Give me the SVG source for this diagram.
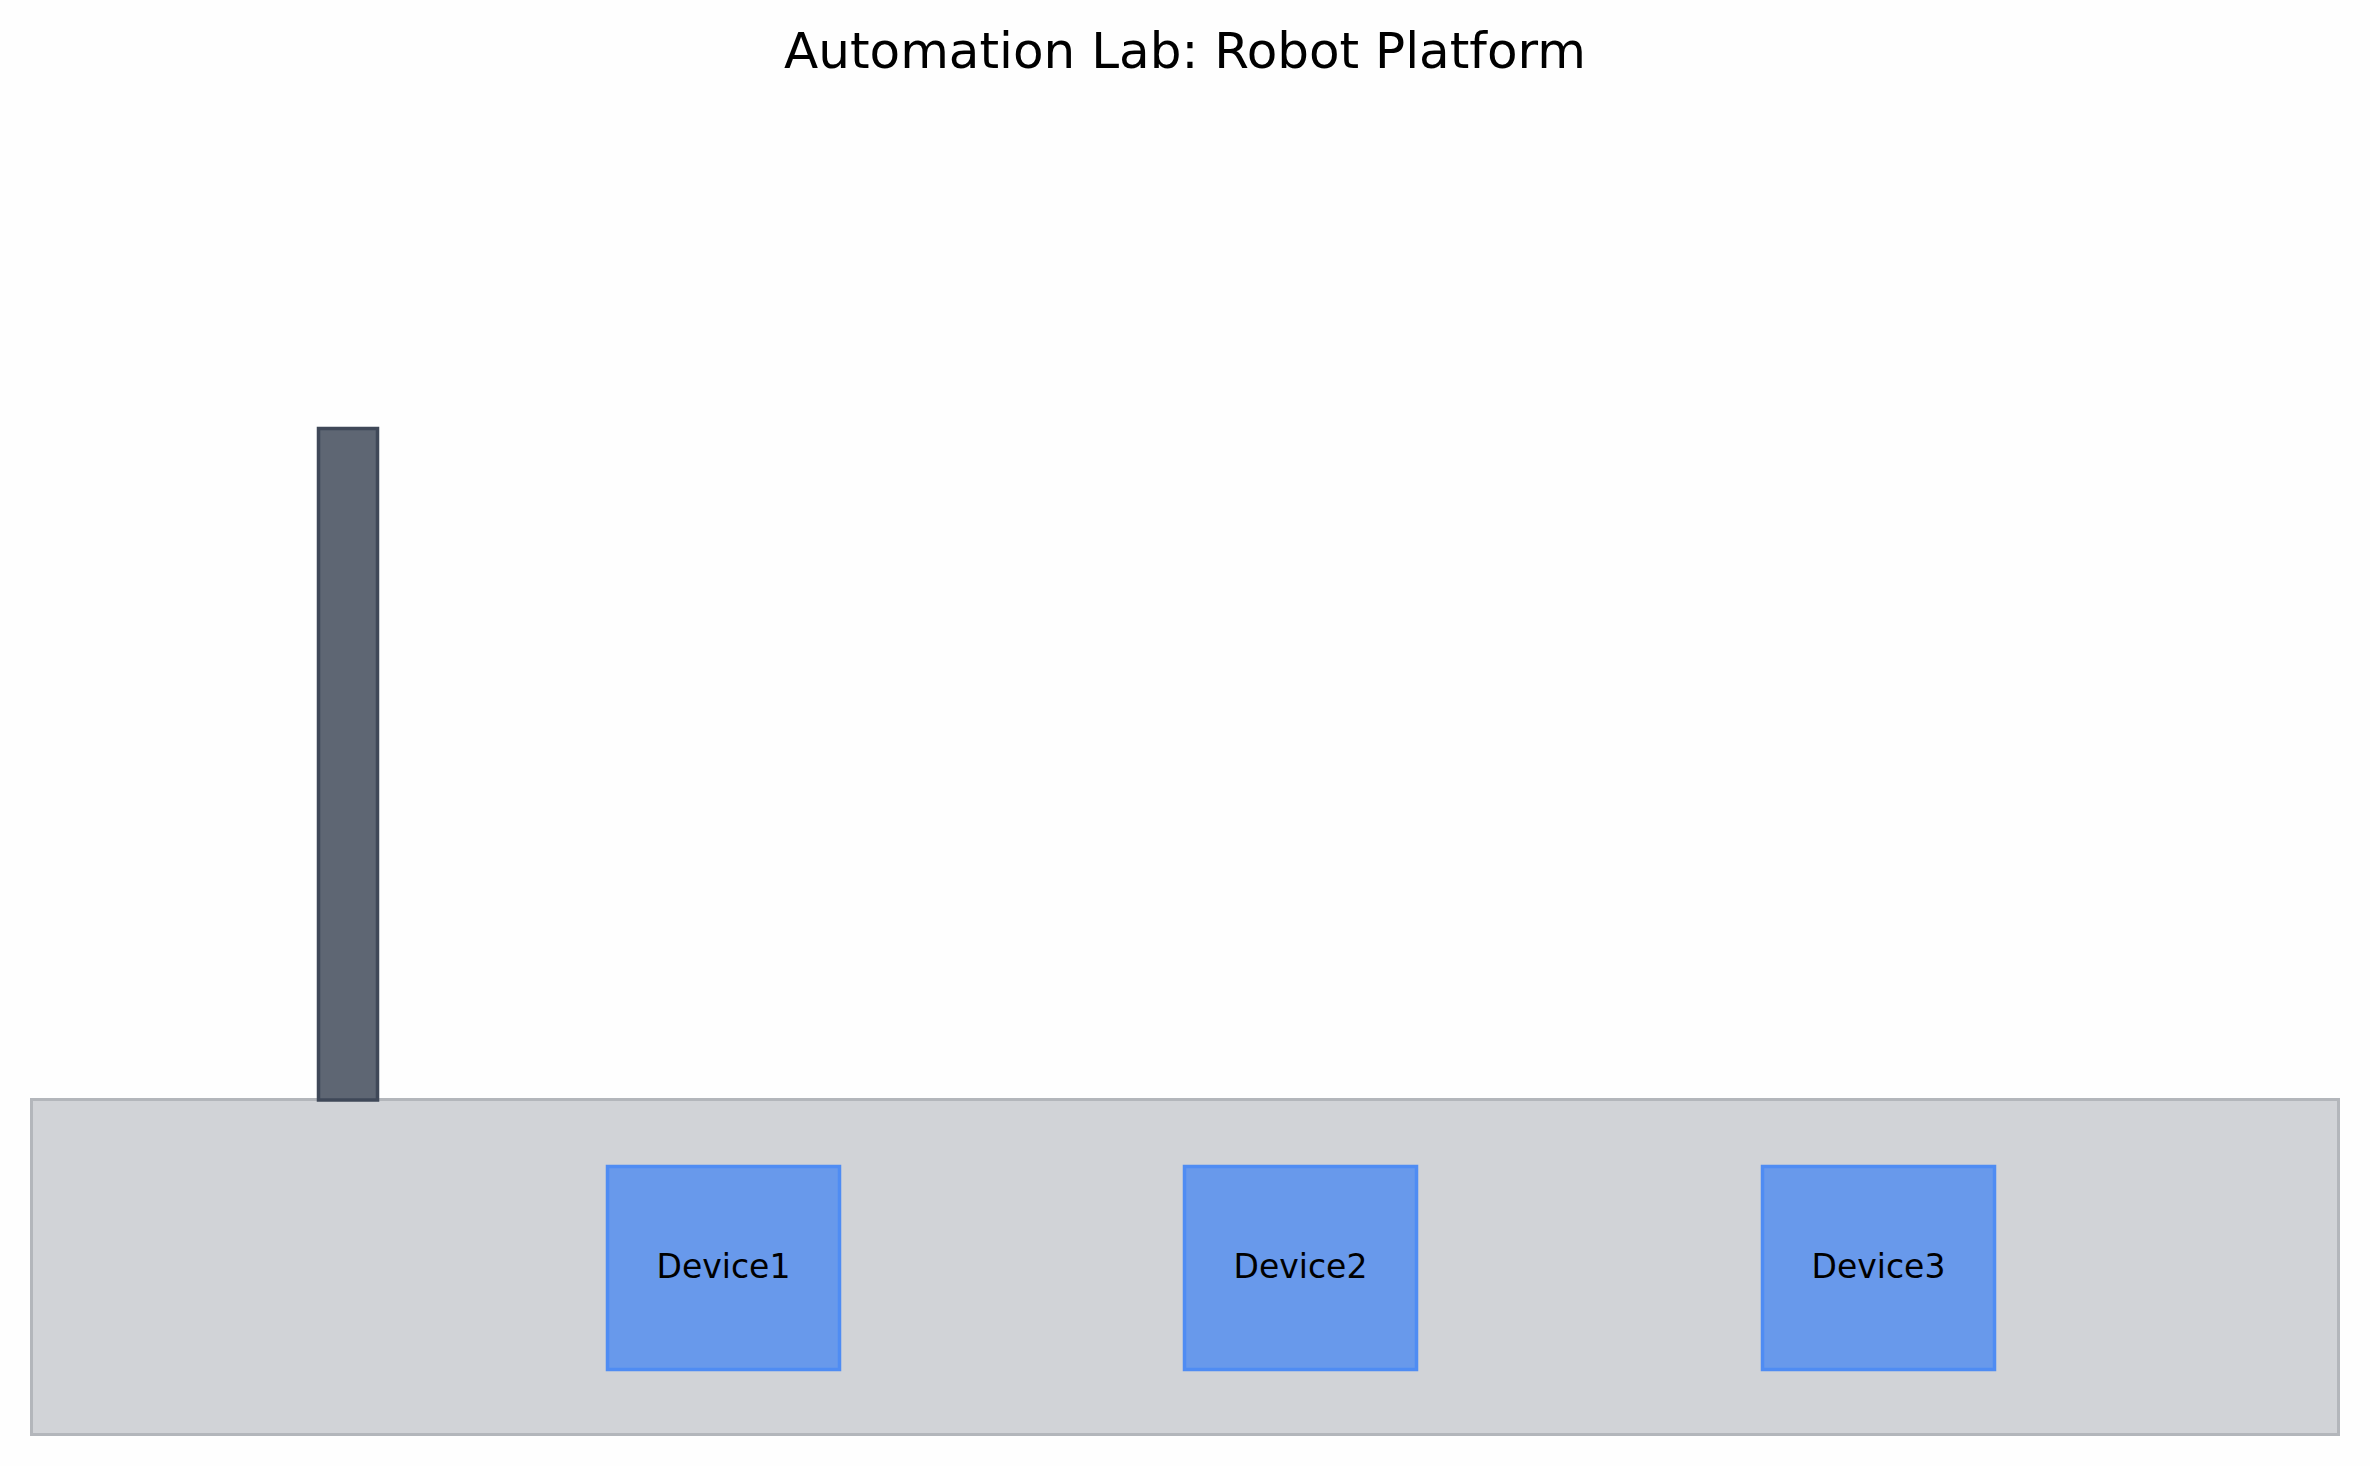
<svg xmlns="http://www.w3.org/2000/svg" width="2370" height="1466" viewBox="0 0 2370 1466">
<style>
text{font-family:"DejaVu Sans","Liberation Sans",sans-serif;fill:#000}
.title{font-size:50px}
.dev rect{fill:#6899eb;stroke:#4f8cf3;stroke-width:3.5}
.dev text{font-size:33px;text-anchor:middle}
</style>
<rect x="0" y="0" width="2370" height="1466" fill="#fefefe"/>
<text class="title" x="1185" y="68" text-anchor="middle">Automation Lab: Robot Platform</text>
<g id="platform"><rect x="31.5" y="1099.5" width="2307" height="335" fill="#d1d3d7" stroke="#b3b6bb" stroke-width="3"/></g>
<g id="pillar"><rect x="318.5" y="428.5" width="59" height="671.5" fill="#5e6673" stroke="#3f4858" stroke-width="3.5"/></g>
<g id="device1" class="dev"><rect x="607.5" y="1166.5" width="232" height="203"/><text x="723.5" y="1278">Device1</text></g>
<g id="device2" class="dev"><rect x="1184.5" y="1166.5" width="232" height="203"/><text x="1300.5" y="1278">Device2</text></g>
<g id="device3" class="dev"><rect x="1762.5" y="1166.5" width="232" height="203"/><text x="1878.5" y="1278">Device3</text></g>
<g id="connectors"/>
</svg>
